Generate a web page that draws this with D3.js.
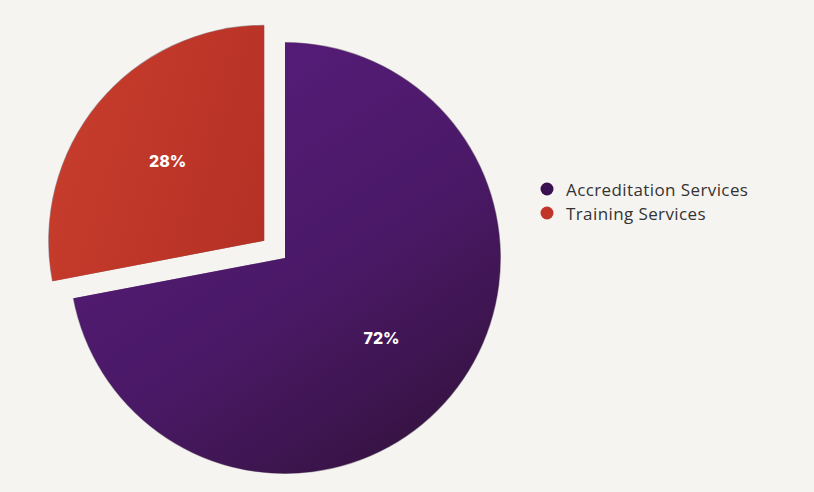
<!DOCTYPE html>
<html>
<head>
<meta charset="utf-8">
<script src="https://cdn.jsdelivr.net/npm/d3@7"></script>
<style>
  html, body { margin: 0; padding: 0; background: #f6f4f1; }
  svg { display: block; }
</style>
</head>
<body>
<svg id="chart" width="814" height="492"></svg>
<script>
// Revenue split by service line
const categories = ["Accreditation Services", "Training Services"];
const shares = [72, 28];
const labels = ["72%", "28%"];
const legendColors = ["#3a1050", "#c0342a"];

const svg = d3.select("#chart");
const W = 814, H = 492;
svg.append("rect").attr("width", W).attr("height", H).attr("fill", "#f6f4f1");

const cx = 285, cy = 258, radius = 216, explode = 27;

const defs = svg.append("defs");
const purpleGrad = defs.append("linearGradient")
  .attr("id", "gPurple").attr("gradientUnits", "userSpaceOnUse")
  .attr("x1", -radius * 0.6).attr("y1", -radius * 0.8)
  .attr("x2", radius * 0.6).attr("y2", radius);
purpleGrad.append("stop").attr("offset", "0").attr("stop-color", "#561c7a");
purpleGrad.append("stop").attr("offset", "0.55").attr("stop-color", "#4a1966");
purpleGrad.append("stop").attr("offset", "1").attr("stop-color", "#34123f");

const redGrad = defs.append("linearGradient")
  .attr("id", "gRed").attr("gradientUnits", "userSpaceOnUse")
  .attr("x1", -radius).attr("y1", -radius * 0.3)
  .attr("x2", 0).attr("y2", 0);
redGrad.append("stop").attr("offset", "0").attr("stop-color", "#c63c2c");
redGrad.append("stop").attr("offset", "1").attr("stop-color", "#b53025");

const fills = ["url(#gPurple)", "url(#gRed)"];

const blur = defs.append("filter").attr("id", "rim")
  .attr("x", "-10%").attr("y", "-10%").attr("width", "120%").attr("height", "120%");
blur.append("feGaussianBlur").attr("stdDeviation", 0.7);

const pie = d3.pie().sort(null).value(d => d)(shares);
const arc = d3.arc().innerRadius(0).outerRadius(radius);
// centroid of this arc sits ~0.58 r from the centre, where the labels go
const labelArc = d3.arc().innerRadius(0).outerRadius(radius * 1.16);

const g = svg.append("g").attr("transform", `translate(${cx},${cy})`);

const slices = g.selectAll("g.slice").data(pie).join("g")
  .attr("class", "slice")
  .attr("transform", (d, i) => {
    if (i !== 1) return null;
    const mid = (d.startAngle + d.endAngle) / 2;
    return `translate(${Math.sin(mid) * explode},${-Math.cos(mid) * explode})`;
  });

// thin dark rim under each slice
slices.append("path")
  .attr("d", arc)
  .attr("fill", "#1e0a24")
  .attr("opacity", 0.4)
  .attr("filter", "url(#rim)");

slices.append("path")
  .attr("d", d3.arc().innerRadius(0).outerRadius(radius - 0.6))
  .attr("fill", (d, i) => fills[i]);

// percentage labels
slices.append("text")
  .attr("transform", d => `translate(${labelArc.centroid(d)})`)
  .attr("text-anchor", "middle")
  .attr("dominant-baseline", "central")
  .attr("fill", "#ffffff")
  .attr("font-family", "Inter, 'Open Sans', sans-serif")
  .attr("font-weight", 800)
  .attr("font-size", 16)
  .text((d, i) => labels[i]);

// legend
const legend = svg.append("g").attr("transform", "translate(547,189)");
const rows = legend.selectAll("g").data(categories).join("g")
  .attr("transform", (d, i) => `translate(0,${i * 24})`);
rows.append("circle").attr("r", 6.5).attr("fill", (d, i) => legendColors[i]);
rows.append("text")
  .attr("x", 19).attr("y", 0)
  .attr("dominant-baseline", "central")
  .attr("fill", "#333333")
  .attr("font-family", "'Open Sans', sans-serif")
  .attr("font-size", 17)
  .attr("letter-spacing", 0.4)
  .text(d => d);
</script>
</body>
</html>
